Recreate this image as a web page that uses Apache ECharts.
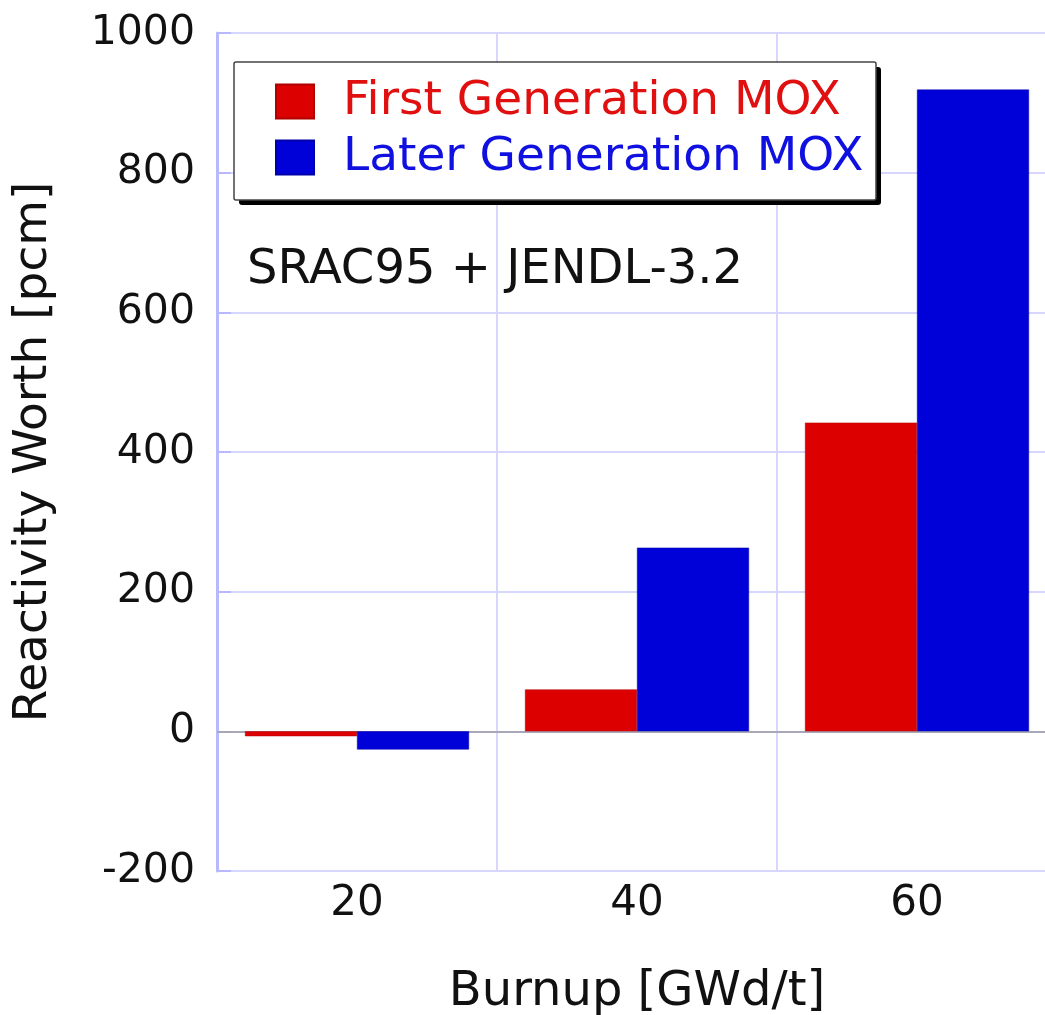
<!DOCTYPE html>
<html>
<head>
<meta charset="utf-8">
<script src="https://cdn.jsdelivr.net/npm/echarts@6/dist/echarts.min.js"></script>
<style>
  html, body { margin: 0; padding: 0; background: #fff; }
  #chart { width: 1045px; height: 1015px; }
</style>
</head>
<body>
<div id="chart"></div>
<script>
const burnups = ['20', '40', '60'];
const firstGen = [-7, 60, 442];
const laterGen = [-26, 263, 919];
const yTicks = [-200, 1000, 200]; // min, max, interval

const FONT = 'DejaVu Sans';
const GRID_BLUE = '#d6d6ff';

const chart = echarts.init(document.getElementById('chart'));

// legend frame (drawn as plain shapes so the drop shadow doesn't double the border)
const box = { x: 234, y: 62, w: 642, h: 138 };

const option = {
  animation: false,
  textStyle: { fontFamily: FONT },
  grid: {
    left: 217,
    top: 33,
    width: 840,
    height: 838,
    containLabel: false,
    outerBoundsMode: 'none'
  },
  legend: {
    orient: 'vertical',
    left: 275,
    top: 78,
    padding: 0,
    z: 10,
    itemWidth: 38,
    itemHeight: 34,
    itemGap: 9,
    icon: 'rect',
    textStyle: {
      fontFamily: FONT,
      fontSize: 47,
      lineHeight: 34,
      padding: [0, 0, 0, 24]
    },
    data: [
      { name: 'First Generation MOX', textStyle: { color: '#e01010' } },
      { name: 'Later Generation MOX', textStyle: { color: '#1010e0' } }
    ]
  },
  graphic: [
    {
      type: 'rect',
      z: 3,
      shape: { x: box.x + 5, y: box.y + 5, width: box.w, height: box.h, r: 3 },
      style: { fill: '#000' }
    },
    {
      type: 'rect',
      z: 3,
      shape: { x: box.x, y: box.y, width: box.w, height: box.h, r: 2 },
      style: { fill: '#fff', stroke: '#444', lineWidth: 1.5 }
    },
    {
      type: 'text',
      left: 247,
      top: 247,
      z: 3,
      style: {
        text: 'SRAC95 + JENDL-3.2',
        fontFamily: FONT,
        fontSize: 48,
        fill: '#111'
      }
    }
  ],
  xAxis: {
    type: 'category',
    data: burnups,
    boundaryGap: true,
    name: 'Burnup [GWd/t]',
    nameLocation: 'middle',
    nameGap: 98,
    nameTextStyle: { fontFamily: FONT, fontSize: 48, color: '#111' },
    axisLine: { show: true, lineStyle: { color: '#c0c0ff', width: 2 } },
    axisTick: { show: false },
    axisLabel: { fontFamily: FONT, fontSize: 42, color: '#111', margin: 12 },
    splitLine: { show: true, lineStyle: { color: GRID_BLUE, width: 2 } }
  },
  yAxis: {
    type: 'value',
    min: yTicks[0],
    max: yTicks[1],
    interval: yTicks[2],
    name: 'Reactivity Worth [pcm]',
    nameLocation: 'middle',
    nameGap: 160,
    nameTextStyle: { fontFamily: FONT, fontSize: 47, color: '#111' },
    axisLine: { show: true, lineStyle: { color: '#b8b8ff', width: 3 } },
    axisTick: { show: true, inside: true, length: 14, lineStyle: { color: '#b8b8ff', width: 2 } },
    axisLabel: {
      fontFamily: FONT, fontSize: 41, color: '#111', margin: 22,
      formatter: (v) => String(v)
    },
    splitLine: { show: true, lineStyle: { color: GRID_BLUE, width: 2 } }
  },
  series: [
    {
      name: 'First Generation MOX',
      type: 'bar',
      data: firstGen,
      barGap: '0%',
      barCategoryGap: '20%',
      itemStyle: { color: '#dc0000', borderColor: '#b00000', borderWidth: 0.5 },
      markLine: {
        silent: true,
        symbol: 'none',
        label: { show: false },
        lineStyle: { color: '#a0a0a0', type: 'solid', width: 1.5 },
        data: [{ yAxis: 0 }],
        z: 1
      }
    },
    {
      name: 'Later Generation MOX',
      type: 'bar',
      data: laterGen,
      barGap: '0%',
      barCategoryGap: '20%',
      itemStyle: { color: '#0000d8', borderColor: '#0000a8', borderWidth: 0.5 }
    }
  ]
};

chart.setOption(option);
</script>
</body>
</html>
